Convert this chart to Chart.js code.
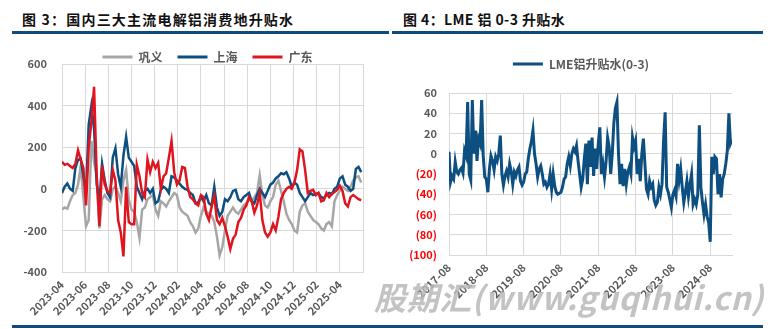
<!DOCTYPE html>
<html>
<head>
<meta charset="utf-8">
<script src="https://cdn.jsdelivr.net/npm/chart.js@4.4.1/dist/chart.umd.min.js"></script>
<style>
body { margin: 0; width: 776px; height: 329px; background: #fff; position: relative; overflow: hidden; font-family: 'Noto Sans CJK SC', sans-serif; }
.title { position: absolute; top: 9px; font-size: 14px; line-height: 20px; font-weight: bold; color: #111; white-space: nowrap; }
.rule { position: absolute; height: 3px; background: #0f4c7d; }
.box { position: absolute; top: 36px; height: 290px; }
.mark { position: absolute; left: 374px; top: 279px; font-size: 32px; line-height: 35px; font-weight: bold; font-style: italic; letter-spacing: 0.6px; color: rgba(185,185,185,0.85); white-space: nowrap; }
</style>
</head>
<body>
<div class="title" style="left:22px; letter-spacing:1.2px">图 3：国内三大主流电解铝消费地升贴水</div>
<div class="title" style="left:403px; letter-spacing:0.4px">图 4：LME 铝 0-3 升贴水</div>
<div class="rule" style="left:12px; top:31px; width:377px"></div>
<div class="rule" style="left:392px; top:31px; width:371px"></div>

<div class="box" style="left:12px; width:378px"><canvas id="spotChart" width="378" height="290"></canvas></div>
<div class="box" style="left:392px; width:372px"><canvas id="lmeChart" width="372" height="290"></canvas></div>

<div class="rule" style="left:12px; top:325px; width:751px"></div>
<div class="mark">股期汇(www.guqihui.cn)</div>

<script>
// 图3：周度，2023-04 起
const monthTicks = ['2023-04', '2023-06', '2023-08', '2023-10', '2023-12', '2024-02', '2024-04',
    '2024-06', '2024-08', '2024-10', '2024-12', '2025-02', '2025-04'];

const gongyi = [-100, -90, -95, -60, -30, -20, 20, 110, -40, -180,
    -150, 230, 130, 60, -190, -50, -30, -50, -60, 0,
    10, -20, -60, 40, 90, -50, -100, -110, -160, -235,
    -100, -90, -50, -40, -30, -100, -130, -60, -70, -85,
    -60, -40, -20, -30, -90, -110, -120, -130, -160, -180,
    -210, -190, -130, -90, -110, -120, -130, -160, -230, -320,
    -280, -200, -130, -110, -90, -110, -120, -100, -80, -70,
    -50, -60, -40, -20, 65, -30, -80, -90, -60, -40,
    20, 40, -10, -60, -120, -150, -170, -200, -210, -110,
    -80, -70, -110, -130, -150, -160, -170, -190, -200, -170,
    -160, -180, -60, -30, -10, 10, 0, -10, 10, 40,
    55, 60, 30];

const shanghai = [-20, 10, 25, 0, -10, 100, 140, 145, 60, -20,
    310, 400, 290, 20, -60, 120, 40, -20, -40, 150,
    195, 70, 10, 160, 250, 150, 130, 110, 10, -20,
    -50, -10, 0, -20, 0, -70, -60, -5, 10, 0,
    -20, 60, 55, 40, 25, 10, 0, -5, -20, -30,
    -70, -65, -40, -60, -30, -70, -80, 10, -90, -130,
    -110, -50, -60, -40, -10, -5, -50, -60, -40, -30,
    -20, -60, -70, -30, 0, -20, -40, -10, 20, 30,
    50, 60, 75, 70, 80, 50, 10, 30, 20, -20,
    -40, -60, -40, -20, -30, -25, -20, -40, -45, -30,
    -20, -25, 0, 10, 50, 60, 20, 10, -10, 0,
    95, 105, 80];

const guangdong = [130, 115, 120, 110, 100, 120, 185, 140, 100, -80,
    200, 320, 490, 60, -180, 110, 20, -10, -20, 90,
    40, -150, -210, -325, 10, -160, -170, -170, 115, 60,
    -20, -40, 140, 80, 130, 100, 125, 0, 60, 75,
    150, 230, 80, 20, 40, 105, 100, 10, -40, -50,
    -70, -80, -30, -40, -120, -150, -85, -35, -150, -170,
    -140, -180, -230, -290, -240, -220, -160, -140, -100, -80,
    -40, -60, -115, -80, -20, -150, -210, -230, -210, -170,
    -200, -135, -50, -20, 0, 10, 0, 30, 90, 190,
    180, 90, -20, -10, -5, -30, -20, -60, -55, -20,
    -40, -25, -15, -5, 15, -10, -70, -85, -40, -30,
    -40, -50, -55];

// 图4：半月，2017-08 起
const yearTicks = ['2017-08', '2018-08', '2019-08', '2020-08', '2021-08', '2022-08', '2023-08', '2024-08'];

const lmeSpread = [2, -28, -22, -25, -8, -18, -20, -16, -14, -19,
    3, -2, 51, -20, -26, 53, 0, 23, -7, 15,
    10, 53, -2, -23, -25, -38, -15, -2, -7, -16,
    -3, -7, 0, 18, -20, -31, -22, -17, -23, -10,
    -17, -30, -18, -22, -16, -13, -27, -31, -28, -20,
    -18, -5, 5, 12, 23, 0, -10, -23, -15, -12,
    -20, -30, -28, -33, -30, -20, -35, -20, -32, -38,
    -40, -39, -38, -33, -25, -23, -10, -3, -12, 0,
    5, 2, 8, -7, -20, -33, -25, -5, 10, -30,
    13, -13, 16, -22, 5, -15, 10, 26, -20, -10,
    -23, -8, 16, 7, -20, 0, 30, 45, 51, 0,
    -30, -10, -32, -15, -30, -18, -13, -20, 16, 7,
    13, -20, -5, -27, 0, 15, -10, -35, -40, -27,
    -33, -30, -46, -51, -48, -33, -40, -30, 13, 41,
    -33, -38, -45, -53, -40, -36, -42, -10, -26, -15,
    -33, -48, -38, -27, -42, -30, -20, -50, -45, -50,
    -40, 28, -33, -48, -60, -50, -62, -68, -87, -3,
    -20, -3, -5, -40, -20, -43, -25, -20, -10, 3,
    40, 10, 14];

Chart.defaults.font.family = "'Noto Sans CJK SC', 'Noto Sans', sans-serif";
Chart.defaults.font.size = 11;
Chart.defaults.font.weight = 'bold';
Chart.defaults.color = '#595959';

const gridColor = '#d9d9d9';

// 调整图例的高度和水平位置
const legendGap = {
    id: 'legendGap',
    beforeLayout(chart, args, opts) {
        const legend = chart.legend;
        if (!legend || legend._gapDone) return;
        const fit = legend.fit;
        legend.fit = function () { fit.call(this); this.height += opts.extra; };
        legend._gapDone = true;
    },
    afterLayout(chart, args, opts) {
        chart.legend.left += opts.shift;
        chart.legend.right += opts.shift;
    }
};

const lineLegend = {
    boxWidth: 30,
    boxHeight: 3,
    color: '#595959',
    font: { size: 12, weight: 'bold' },
    sort: (a, b) => a.datasetIndex - b.datasetIndex,
    generateLabels: chart => Chart.defaults.plugins.legend.labels.generateLabels(chart)
        .map(item => Object.assign(item, { lineWidth: 0 }))
};

const weekly = values => values.map((v, i) => ({ x: i * 12 / 52, y: v }));
const halfMonth = values => values.map((v, i) => ({ x: i * 0.5, y: v }));

new Chart(document.getElementById('spotChart'), {
    type: 'line',
    data: {
        datasets: [
            { label: '巩义', data: weekly(gongyi), borderColor: '#a6a6a6', backgroundColor: '#a6a6a6', order: 3 },
            { label: '上海', data: weekly(shanghai), borderColor: '#0d4f80', backgroundColor: '#0d4f80', order: 2 },
            { label: '广东', data: weekly(guangdong), borderColor: '#e0141e', backgroundColor: '#e0141e', order: 1 }
        ]
    },
    options: {
        responsive: false,
        animation: false,
        devicePixelRatio: 1,
        layout: { padding: { top: 0, right: 27, bottom: 0, left: 0 } },
        elements: { line: { borderWidth: 2.5, tension: 0 }, point: { radius: 0 } },
        scales: {
            x: {
                type: 'linear', min: 0, max: 26,
                grid: { color: gridColor, drawTicks: false },
                border: { color: gridColor },
                ticks: {
                    stepSize: 2, autoSkip: false, maxRotation: 45, minRotation: 45, padding: 6,
                    callback: v => monthTicks[v / 2] || ''
                },
                afterFit: s => { s.height = 54; }
            },
            y: {
                min: -400, max: 600,
                grid: { color: gridColor, drawTicks: false },
                border: { color: gridColor },
                ticks: { stepSize: 200, padding: 15 },
                afterFit: s => { s.width = 50; }
            }
        },
        plugins: {
            legend: { position: 'top', labels: Object.assign({ padding: 15 }, lineLegend) },
            legendGap: { extra: -9, shift: 20 },
            tooltip: { enabled: false }
        }
    },
    plugins: [legendGap]
});

new Chart(document.getElementById('lmeChart'), {
    type: 'line',
    data: {
        datasets: [
            { label: 'LME铝升贴水(0-3)', data: halfMonth(lmeSpread), borderColor: '#0d4f80', backgroundColor: '#0d4f80' }
        ]
    },
    options: {
        responsive: false,
        animation: false,
        devicePixelRatio: 1,
        layout: { padding: { top: 0, right: 32, bottom: 0, left: 0 } },
        elements: { line: { borderWidth: 3, tension: 0 }, point: { radius: 0 } },
        scales: {
            x: {
                type: 'linear', min: 0, max: (lmeSpread.length - 1) * 0.5,
                grid: { color: gridColor, drawTicks: false },
                border: { color: gridColor },
                ticks: {
                    stepSize: 12, includeBounds: false, autoSkip: false, maxRotation: 45, minRotation: 45, padding: 6,
                    callback: v => yearTicks[v / 12] || ''
                },
                afterFit: s => { s.height = 71; }
            },
            y: {
                min: -100, max: 60,
                grid: { color: gridColor, drawTicks: false },
                border: { color: gridColor },
                ticks: {
                    stepSize: 20, padding: 12,
                    color: ctx => (ctx.tick && ctx.tick.value < 0 ? '#ff0000' : '#595959'),
                    callback: v => (v < 0 ? '(' + Math.abs(v) + ')' : String(v))
                },
                afterFit: s => { s.width = 57; }
            }
        },
        plugins: {
            legend: { position: 'top', labels: Object.assign({ padding: 22 }, lineLegend) },
            legendGap: { extra: 13, shift: 19 },
            tooltip: { enabled: false }
        }
    },
    plugins: [legendGap]
});
</script>
</body>
</html>
